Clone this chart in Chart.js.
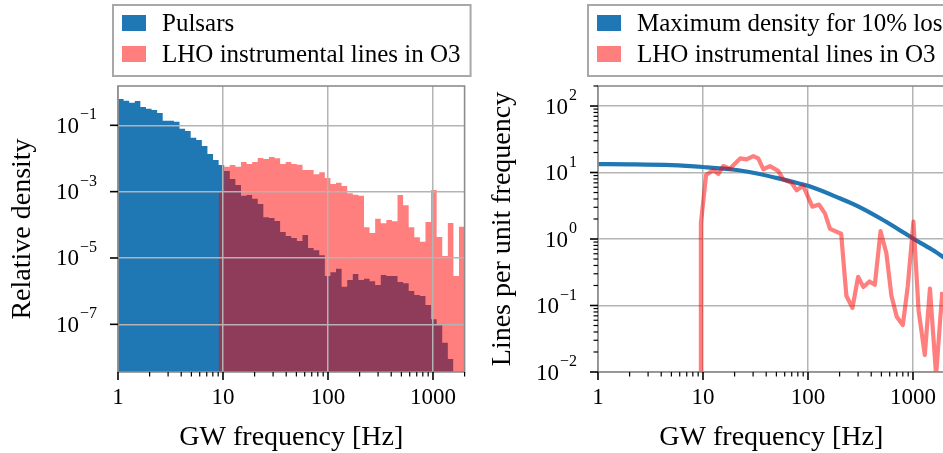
<!DOCTYPE html>
<html>
<head>
<meta charset="utf-8">
<script src="https://cdn.jsdelivr.net/npm/chart.js@4.4.1/dist/chart.umd.min.js"></script>
<style>
	html, body { margin: 0; padding: 0; background: #fff; overflow: hidden; }
	#fig { position: relative; width: 943px; height: 453px; overflow: hidden; }
	#histChart { position: absolute; left: 0; top: 0; }
	#lineChart { position: absolute; left: 480px; top: 0; }
</style>
</head>
<body>
<div id="fig">
	<canvas id="histChart" width="480" height="453"></canvas>
	<canvas id="lineChart" width="485" height="453"></canvas>
</div>
<script>
// ---------- data ----------
// histogram bins: 62 log-spaced bins between 1 Hz and 2 kHz
const binEdges = Array.from({ length: 63 }, (_, i) => Math.pow(2000, i / 62));

// pulsar density per bin (bins 0..59)
const pulsarDensity = [
	0.621, 0.552, 0.480, 0.541, 0.356, 0.316, 0.289, 0.235, 0.138, 0.138,
	0.129, 0.0789, 0.0673, 0.0423, 0.0361, 0.0238, 0.0136, 0.0090, 0.00635, 0.00419,
	0.00240, 0.00158, 7.55e-4, 7.93e-4, 6.12e-4, 4.24e-4, 1.68e-4, 1.60e-4, 1.30e-4, 6.07e-5,
	4.60e-5, 4.00e-5, 3.25e-5, 4.93e-5, 2.00e-5, 1.71e-5, 1.20e-5, 2.86e-6, 3.70e-6, 4.75e-6,
	1.36e-6, 2.17e-6, 3.29e-6, 2.17e-6, 2.38e-6, 1.99e-6, 1.53e-6, 3.07e-6, 2.86e-6, 2.86e-6,
	1.89e-6, 1.73e-6, 1.01e-6, 7.66e-7, 7.14e-7, 3.82e-7, 1.42e-7, 1.02e-7, 2.79e-8, 9.0e-9
];

// LHO O3 line density per bin, starting at bin 18
const lhoFirstBin = 18;
const lhoDensity = [
	1.05e-3, 5.65e-3, 6.35e-3, 5.65e-3, 7.83e-3, 6.81e-3, 7.83e-3, 0.01033, 9.64e-3, 0.01107,
	0.01012, 6.81e-3, 7.83e-3, 6.81e-3, 6.49e-3, 4.49e-3, 4.49e-3, 3.33e-3, 3.83e-3, 2.58e-3,
	1.70e-3, 1.86e-3, 1.48e-3, 8.91e-4, 8.09e-4, 7.55e-4, 8.41e-5, 5.66e-5, 1.53e-4, 1.11e-4,
	1.40e-4, 1.28e-4, 7.93e-4, 3.87e-4, 8.41e-5, 4.20e-5, 3.10e-5, 1.22e-4, 1.12e-3, 4.30e-5,
	1.15e-5, 1.14e-4, 2.86e-6, 8.77e-5
];

// right panel: maximum line density for 10% loss
const maxDensFreq = [1, 2, 5, 10, 20, 30, 50, 70, 100, 200, 300, 500, 700, 1000, 1500, 2000];
const maxDensValues = [13.4, 13.3, 12.9, 12.1, 11.0, 9.9, 8.3, 7.3, 6.3, 4.1, 3.1, 2.0, 1.45, 1.02, 0.7, 0.52];

// right panel: LHO instrumental lines per unit frequency
const lhoLineFreq = [
	9.40, 9.55, 10.7, 12.6, 14.0, 15.6, 18.0, 22.6, 26.0, 30.1,
	33.6, 37.5, 43.4, 52.0, 58.0, 69.6, 78.0, 90.0, 110, 127,
	145, 162, 207, 232, 265, 300, 337, 385, 433, 491,
	558, 623, 700, 800, 890, 1010, 1130, 1295, 1450, 1660, 1900
];
const lhoLineValues = [
	0.004, 1.72, 9.2, 10.9, 9.5, 12.5, 11.4, 16.3, 15.8, 17.7,
	16.3, 11.2, 12.5, 10.6, 7.9, 7.0, 5.4, 6.3, 3.06, 3.3,
	2.43, 1.42, 1.2, 0.14, 0.092, 0.27, 0.19, 0.23, 0.205, 1.31,
	0.61, 0.14, 0.068, 0.051, 0.19, 1.82, 0.085, 0.018, 0.18, 0.009, 0.16
];

// ticks
const freqTicks = [1, 10, 100, 1000];
const freqTickLabels = ["1", "10", "100", "1000"];
const densTicks = [1e-1, 1e-3, 1e-5, 1e-7];
const densTickExps = ["\u22121", "\u22123", "\u22125", "\u22127"];
const linesTicks = [1e2, 1e1, 1, 1e-1, 1e-2];
const linesTickExps = ["2", "1", "0", "\u22121", "\u22122"];

function minorTicks(fromExp, toExp, maxValue) {
	const out = [];
	for (let e = fromExp; e <= toExp; e++) {
		for (let m = 2; m <= 9; m++) {
			const v = m * Math.pow(10, e);
			if (v <= maxValue * 1.0001) out.push(v);
		}
	}
	return out;
}
const freqMinor = minorTicks(0, 3, 2000);
const linesMinor = minorTicks(-2, 2, 200);

// ---------- style ----------
const SERIF = '"Liberation Serif", "DejaVu Serif", serif';
const BLUE = "#1f77b4";
const RED_A = "rgba(255, 0, 0, 0.5)";
const GRID = "#b4b4b4";
const SPINE = "#8c8c8c";

function stepPoints(heights, first) {
	const pts = heights.map((h, i) => ({ x: binEdges[first + i], y: h }));
	pts.push({ x: binEdges[first + heights.length], y: heights[heights.length - 1] });
	return pts;
}

function zip(xs, ys) {
	return xs.map((x, i) => ({ x: x, y: ys[i] }));
}

/* draws frame, tick marks, tick labels, axis titles and the boxed legend */
const figurePlugin = {
	id: "figure",
	afterDraw(chart, args, o) {
		const { ctx, chartArea: a } = chart;
		const sx = chart.scales.x;
		const sy = chart.scales.y;
		ctx.save();

		// frame
		ctx.strokeStyle = SPINE;
		ctx.lineWidth = 1.6;
		ctx.strokeRect(a.left, a.top, a.right - a.left, a.bottom - a.top);

		// tick marks
		ctx.strokeStyle = "#000";
		const xMark = (v, len, w) => {
			const p = sx.getPixelForValue(v);
			if (p < a.left - 1 || p > a.right + 1) return;
			ctx.lineWidth = w;
			ctx.beginPath(); ctx.moveTo(p, a.bottom); ctx.lineTo(p, a.bottom + len); ctx.stroke();
		};
		const yMark = (v, len, w) => {
			const p = sy.getPixelForValue(v);
			if (p < a.top - 1 || p > a.bottom + 1) return;
			ctx.lineWidth = w;
			ctx.beginPath(); ctx.moveTo(a.left, p); ctx.lineTo(a.left - len, p); ctx.stroke();
		};
		o.xMinor.forEach(v => xMark(v, 4.5, 1.2));
		o.xTicks.forEach(v => xMark(v, 8, 1.6));
		o.yMinor.forEach(v => yMark(v, 4.5, 1.2));
		o.yTicks.forEach(v => yMark(v, 8, 1.6));

		// tick labels
		ctx.fillStyle = "#000";
		ctx.textBaseline = "alphabetic";
		ctx.font = "23px " + SERIF;
		ctx.textAlign = "center";
		o.xTicks.forEach((v, i) => {
			ctx.fillText(o.xLabels[i], sx.getPixelForValue(v), a.bottom + 32);
		});
		o.yTicks.forEach((v, i) => {
			const p = sy.getPixelForValue(v);
			ctx.font = "16px " + SERIF;
			const wExp = ctx.measureText(o.yExps[i]).width;
			const right = a.left - 21;
			ctx.textAlign = "right";
			ctx.fillText(o.yExps[i], right, p - 6);
			ctx.font = "23px " + SERIF;
			ctx.fillText("10", right - wExp - 1, p + 7.5);
		});

		// axis titles
		ctx.font = "28px " + SERIF;
		ctx.textAlign = "center";
		ctx.fillText(o.xTitle, (a.left + a.right) / 2, a.bottom + 73);
		ctx.save();
		ctx.translate(a.left - 88, (a.top + a.bottom) / 2);
		ctx.rotate(-Math.PI / 2);
		ctx.fillText(o.yTitle, 0, 0);
		ctx.restore();

		// legend
		ctx.font = "25px " + SERIF;
		const textW = Math.max(...o.legend.map(e => ctx.measureText(e.label).width));
		const bx = o.legendX, by = 5, bw = 49 + textW + 10, bh = 71;
		ctx.fillStyle = "#fff";
		ctx.fillRect(bx, by, bw, bh);
		ctx.strokeStyle = "#a8a8a8";
		ctx.lineWidth = 2;
		ctx.strokeRect(bx, by, bw, bh);
		ctx.textAlign = "left";
		o.legend.forEach((e, i) => {
			const cy = by + 18 + i * 31;
			ctx.fillStyle = e.color;
			ctx.fillRect(bx + 9, cy - 8, 24, 16);
			ctx.fillStyle = "#000";
			ctx.fillText(e.label, bx + 49, cy + 8);
		});

		ctx.restore();
	}
};

function freqAxis(gridZ) {
	return {
		type: "logarithmic",
		min: 1,
		max: 2000,
		afterBuildTicks: s => { s.ticks = freqTicks.map(v => ({ value: v })); },
		afterFit: s => { s.height = 81; },
		ticks: { display: false },
		grid: { color: GRID, lineWidth: 1.5, drawTicks: false, z: gridZ },
		border: { display: false }
	};
}

function valueAxis(min, max, ticks, gridZ) {
	return {
		type: "logarithmic",
		min: min,
		max: max,
		afterBuildTicks: s => { s.ticks = ticks.map(v => ({ value: v })); },
		afterFit: s => { s.width = 118; },
		ticks: { display: false },
		grid: { color: GRID, lineWidth: 1.5, drawTicks: false, z: gridZ },
		border: { display: false }
	};
}

document.addEventListener("DOMContentLoaded", () => {

	window.histChart = new Chart(document.getElementById("histChart"), {
		type: "line",
		data: {
			datasets: [{
				label: "LHO instrumental lines in O3",
				data: stepPoints(lhoDensity, lhoFirstBin),
				stepped: "before",
				fill: "start",
				backgroundColor: RED_A,
				borderColor: "transparent",
				borderWidth: 0,
				pointRadius: 0,
				order: 1
			}, {
				label: "Pulsars",
				data: stepPoints(pulsarDensity, 0),
				stepped: "before",
				fill: "start",
				backgroundColor: BLUE,
				borderColor: "transparent",
				borderWidth: 0,
				pointRadius: 0,
				order: 2
			}]
		},
		options: {
			responsive: false,
			animation: false,
			devicePixelRatio: 1,
			layout: { padding: { left: 0, top: 86, right: 15.4, bottom: 0 } },
			plugins: {
				legend: { display: false },
				tooltip: { enabled: false },
				figure: {
					xTicks: freqTicks, xLabels: freqTickLabels, xMinor: freqMinor,
					yTicks: densTicks, yExps: densTickExps, yMinor: [],
					xTitle: "GW frequency [Hz]",
					yTitle: "Relative density",
					legendX: 113,
					legend: [
						{ label: "Pulsars", color: BLUE },
						{ label: "LHO instrumental lines in O3", color: RED_A }
					]
				}
			},
			scales: {
				x: freqAxis(1),
				y: valueAxis(Math.pow(10, -8.437), Math.pow(10, 0.185), densTicks, 1)
			}
		},
		plugins: [figurePlugin]
	});

	window.lineChart = new Chart(document.getElementById("lineChart"), {
		type: "line",
		data: {
			datasets: [{
				label: "LHO instrumental lines in O3",
				data: zip(lhoLineFreq, lhoLineValues),
				borderColor: RED_A,
				borderWidth: 4.2,
				borderJoinStyle: "round",
				tension: 0,
				pointRadius: 0,
				order: 1
			}, {
				label: "Maximum density for 10% loss",
				data: zip(maxDensFreq, maxDensValues),
				borderColor: BLUE,
				borderWidth: 4.2,
				cubicInterpolationMode: "monotone",
				pointRadius: 0,
				order: 2
			}]
		},
		options: {
			responsive: false,
			animation: false,
			devicePixelRatio: 1,
			layout: { padding: { left: 0, top: 86, right: 485 - 464.6, bottom: 0 } },
			plugins: {
				legend: { display: false },
				tooltip: { enabled: false },
				figure: {
					xTicks: freqTicks, xLabels: freqTickLabels, xMinor: freqMinor,
					yTicks: linesTicks, yExps: linesTickExps, yMinor: linesMinor,
					xTitle: "GW frequency [Hz]",
					yTitle: "Lines per unit frequency",
					legendX: 108,
					legend: [
						{ label: "Maximum density for 10% loss", color: BLUE },
						{ label: "LHO instrumental lines in O3", color: RED_A }
					]
				}
			},
			scales: {
				x: freqAxis(-1),
				y: valueAxis(0.01, 200, linesTicks, -1)
			}
		},
		plugins: [figurePlugin]
	});
});
</script>
</body>
</html>
